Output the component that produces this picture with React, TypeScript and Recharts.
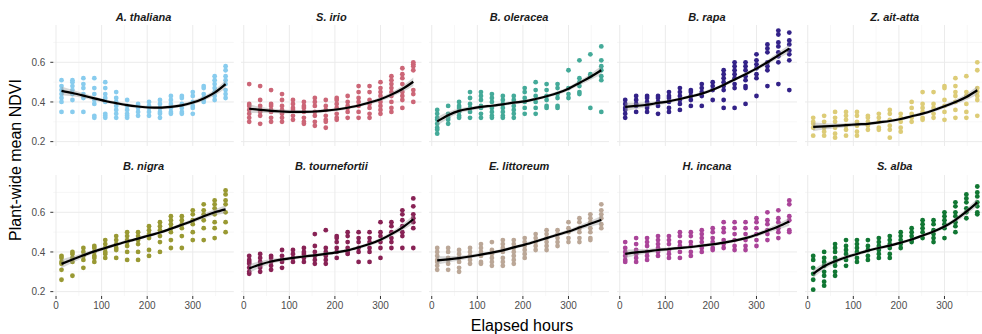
import React from 'react';
import { ComposedChart, Scatter, Line, Area, XAxis, YAxis, CartesianGrid } from 'recharts';

// Sampling times (hours since start) shared by every species
const hours = [12, 36, 60, 84, 108, 132, 156, 180, 204, 228, 252, 276, 300, 324, 348, 372];

// Per-plant NDVI readings, one inner list per sampling time
const thalianaNdvi = [
  [0.51, 0.48, 0.46, 0.44, 0.42, 0.40, 0.35], [0.51, 0.50, 0.48, 0.46, 0.44, 0.41, 0.35],
  [0.52, 0.49, 0.47, 0.44, 0.42, 0.35], [0.52, 0.47, 0.44, 0.41, 0.39, 0.33, 0.32],
  [0.50, 0.47, 0.44, 0.42, 0.40, 0.34, 0.33, 0.32], [0.45, 0.42, 0.40, 0.38, 0.36, 0.34, 0.32],
  [0.41, 0.38, 0.36, 0.34, 0.33, 0.32], [0.39, 0.38, 0.37, 0.35, 0.33],
  [0.40, 0.38, 0.37, 0.35, 0.33], [0.41, 0.39, 0.37, 0.35, 0.34, 0.32],
  [0.43, 0.41, 0.39, 0.37, 0.35, 0.34], [0.43, 0.42, 0.39, 0.37, 0.35, 0.34],
  [0.45, 0.43, 0.40, 0.38, 0.37, 0.34], [0.48, 0.47, 0.44, 0.42, 0.41, 0.40],
  [0.53, 0.51, 0.49, 0.47, 0.45, 0.43, 0.41], [0.58, 0.56, 0.53, 0.51, 0.49, 0.46, 0.44, 0.42],
];
const irioNdvi = [
  [0.49, 0.39, 0.38, 0.36, 0.34, 0.32, 0.30], [0.48, 0.41, 0.38, 0.36, 0.35, 0.33, 0.29],
  [0.46, 0.39, 0.38, 0.36, 0.35, 0.32, 0.30], [0.44, 0.41, 0.38, 0.36, 0.34, 0.32, 0.30],
  [0.41, 0.39, 0.37, 0.36, 0.33, 0.31], [0.40, 0.38, 0.37, 0.35, 0.32, 0.30, 0.29],
  [0.42, 0.40, 0.38, 0.35, 0.33, 0.30, 0.28], [0.41, 0.38, 0.36, 0.33, 0.31, 0.30, 0.27],
  [0.42, 0.41, 0.39, 0.37, 0.34, 0.32, 0.31], [0.43, 0.40, 0.38, 0.37, 0.35, 0.32],
  [0.48, 0.45, 0.42, 0.40, 0.38, 0.35, 0.32], [0.48, 0.45, 0.41, 0.39, 0.37, 0.34, 0.32],
  [0.50, 0.47, 0.45, 0.43, 0.40, 0.38, 0.36, 0.34], [0.53, 0.51, 0.49, 0.47, 0.45, 0.43, 0.40, 0.37, 0.35],
  [0.57, 0.54, 0.52, 0.49, 0.45, 0.43, 0.41, 0.37], [0.60, 0.59, 0.58, 0.56, 0.46, 0.44, 0.40],
];
const oleraceaNdvi = [
  [0.36, 0.34, 0.32, 0.31, 0.29, 0.27, 0.26, 0.24], [0.38, 0.34, 0.32, 0.31, 0.29],
  [0.40, 0.38, 0.37, 0.35, 0.33, 0.32], [0.45, 0.42, 0.39, 0.37, 0.35, 0.32],
  [0.45, 0.43, 0.41, 0.38, 0.37, 0.34, 0.32], [0.44, 0.42, 0.40, 0.37, 0.35, 0.33, 0.32],
  [0.43, 0.41, 0.39, 0.37, 0.35, 0.33, 0.32], [0.43, 0.41, 0.38, 0.36, 0.34, 0.32],
  [0.47, 0.45, 0.42, 0.40, 0.37, 0.34], [0.50, 0.46, 0.43, 0.40, 0.37, 0.34],
  [0.49, 0.46, 0.43, 0.41, 0.38, 0.37], [0.49, 0.47, 0.44, 0.42, 0.38, 0.37],
  [0.56, 0.47, 0.44, 0.42], [0.61, 0.52, 0.50, 0.48, 0.45, 0.44],
  [0.64, 0.54, 0.53, 0.37], [0.68, 0.61, 0.58, 0.56, 0.53, 0.51, 0.35],
];
const rapaNdvi = [
  [0.41, 0.39, 0.37, 0.36, 0.34, 0.32], [0.43, 0.41, 0.39, 0.38, 0.35],
  [0.43, 0.42, 0.40, 0.38, 0.37, 0.35], [0.43, 0.42, 0.40, 0.38, 0.34],
  [0.45, 0.43, 0.42, 0.40, 0.37, 0.35], [0.47, 0.45, 0.43, 0.41, 0.39, 0.36],
  [0.46, 0.45, 0.43, 0.41, 0.38], [0.49, 0.47, 0.45, 0.43, 0.38],
  [0.50, 0.48, 0.46, 0.41], [0.56, 0.54, 0.52, 0.50, 0.48, 0.46, 0.41, 0.37],
  [0.60, 0.58, 0.56, 0.54, 0.52, 0.49, 0.47, 0.37], [0.60, 0.58, 0.56, 0.53, 0.51, 0.48, 0.47, 0.39],
  [0.64, 0.61, 0.59, 0.57, 0.54, 0.52, 0.43], [0.69, 0.67, 0.65, 0.60, 0.58, 0.56, 0.48],
  [0.76, 0.74, 0.70, 0.68, 0.65, 0.63, 0.60, 0.49], [0.75, 0.71, 0.69, 0.66, 0.64, 0.61, 0.46],
];
const aitAttaNdvi = [
  [0.32, 0.30, 0.29, 0.27, 0.23], [0.33, 0.30, 0.27, 0.25, 0.23],
  [0.35, 0.32, 0.30, 0.27, 0.24, 0.22], [0.35, 0.33, 0.31, 0.28, 0.26, 0.23],
  [0.35, 0.33, 0.30, 0.28, 0.25, 0.23], [0.33, 0.32, 0.30, 0.28, 0.26],
  [0.34, 0.32, 0.30, 0.27, 0.26], [0.36, 0.34, 0.31, 0.28, 0.26, 0.22],
  [0.34, 0.32, 0.30, 0.27, 0.25], [0.40, 0.37, 0.34, 0.32, 0.30],
  [0.45, 0.39, 0.37, 0.35, 0.32, 0.31], [0.45, 0.39, 0.37, 0.34, 0.32],
  [0.48, 0.47, 0.41, 0.38, 0.35, 0.31], [0.52, 0.48, 0.45, 0.43, 0.40, 0.36, 0.32],
  [0.53, 0.45, 0.43, 0.39, 0.35, 0.32], [0.60, 0.56, 0.47, 0.45, 0.43, 0.41, 0.33],
];
const nigraNdvi = [
  [0.38, 0.37, 0.35, 0.34, 0.31, 0.26], [0.40, 0.39, 0.37, 0.35, 0.28],
  [0.42, 0.40, 0.38, 0.36, 0.32], [0.43, 0.42, 0.40, 0.38, 0.37, 0.35],
  [0.46, 0.44, 0.42, 0.40, 0.39, 0.37], [0.48, 0.46, 0.44, 0.42, 0.41, 0.37],
  [0.50, 0.48, 0.46, 0.45, 0.43, 0.40, 0.36], [0.50, 0.48, 0.46, 0.44, 0.40, 0.36],
  [0.53, 0.51, 0.49, 0.47, 0.41, 0.38], [0.55, 0.53, 0.51, 0.48, 0.45, 0.40],
  [0.58, 0.56, 0.54, 0.52, 0.50, 0.46, 0.42], [0.58, 0.56, 0.54, 0.52, 0.48, 0.42],
  [0.61, 0.59, 0.56, 0.54, 0.50, 0.46], [0.64, 0.61, 0.59, 0.56, 0.52, 0.46],
  [0.66, 0.64, 0.62, 0.59, 0.55, 0.52, 0.47], [0.71, 0.69, 0.66, 0.64, 0.60, 0.55, 0.50],
];
const tournefortiiNdvi = [
  [0.38, 0.36, 0.35, 0.34, 0.32, 0.30, 0.29], [0.39, 0.37, 0.35, 0.33, 0.32, 0.30],
  [0.38, 0.37, 0.35, 0.33, 0.31], [0.41, 0.38, 0.36, 0.35, 0.32],
  [0.41, 0.39, 0.37, 0.35], [0.42, 0.40, 0.39, 0.37, 0.35],
  [0.49, 0.43, 0.40, 0.38, 0.36, 0.34], [0.51, 0.42, 0.40, 0.38, 0.36, 0.34],
  [0.48, 0.47, 0.45, 0.42, 0.40, 0.37], [0.50, 0.48, 0.45, 0.42, 0.40, 0.39],
  [0.50, 0.47, 0.45, 0.42, 0.40, 0.35], [0.50, 0.47, 0.45, 0.42, 0.40, 0.35],
  [0.55, 0.50, 0.48, 0.45, 0.42, 0.37], [0.55, 0.53, 0.50, 0.47, 0.45, 0.42],
  [0.61, 0.59, 0.56, 0.53, 0.50, 0.48, 0.42], [0.67, 0.63, 0.59, 0.57, 0.55, 0.52, 0.42],
];
const littoreumNdvi = [
  [0.42, 0.40, 0.38, 0.36, 0.35, 0.33, 0.31], [0.42, 0.40, 0.37, 0.36, 0.34, 0.31],
  [0.41, 0.39, 0.37, 0.35, 0.32, 0.30], [0.42, 0.40, 0.38, 0.36, 0.34],
  [0.44, 0.42, 0.40, 0.38, 0.35, 0.34], [0.45, 0.41, 0.39, 0.37, 0.35, 0.33],
  [0.46, 0.44, 0.42, 0.40, 0.37, 0.35, 0.33], [0.46, 0.44, 0.42, 0.40, 0.38, 0.36, 0.34],
  [0.47, 0.45, 0.43, 0.41, 0.39, 0.37], [0.49, 0.47, 0.45, 0.43, 0.41],
  [0.51, 0.49, 0.47, 0.45, 0.43, 0.41], [0.51, 0.49, 0.47, 0.45, 0.43],
  [0.55, 0.52, 0.50, 0.47, 0.45], [0.57, 0.55, 0.52, 0.50, 0.47, 0.45],
  [0.59, 0.57, 0.55, 0.52, 0.50, 0.47, 0.46], [0.64, 0.61, 0.59, 0.57, 0.54, 0.52],
];
const incanaNdvi = [
  [0.45, 0.42, 0.40, 0.38, 0.36, 0.35], [0.47, 0.44, 0.41, 0.39, 0.37, 0.35],
  [0.47, 0.45, 0.43, 0.40, 0.38, 0.36], [0.48, 0.46, 0.44, 0.42, 0.40, 0.38],
  [0.48, 0.46, 0.44, 0.41, 0.39, 0.37], [0.50, 0.48, 0.45, 0.43, 0.40, 0.37],
  [0.50, 0.48, 0.45, 0.43, 0.40, 0.38], [0.51, 0.49, 0.47, 0.45, 0.42, 0.40],
  [0.52, 0.50, 0.47, 0.45, 0.42, 0.41], [0.55, 0.52, 0.50, 0.46, 0.44, 0.42],
  [0.55, 0.52, 0.49, 0.46, 0.43, 0.41], [0.55, 0.52, 0.49, 0.46, 0.43, 0.41],
  [0.57, 0.55, 0.52, 0.49, 0.46, 0.43], [0.60, 0.56, 0.54, 0.51, 0.49, 0.46],
  [0.61, 0.57, 0.55, 0.52, 0.50, 0.47], [0.66, 0.64, 0.58, 0.56, 0.51, 0.50],
];
const albaNdvi = [
  [0.38, 0.36, 0.32, 0.29, 0.26, 0.21], [0.40, 0.37, 0.35, 0.33, 0.30, 0.28, 0.25, 0.23],
  [0.44, 0.42, 0.40, 0.37, 0.35, 0.33, 0.30, 0.28], [0.46, 0.43, 0.41, 0.39, 0.36, 0.33],
  [0.46, 0.44, 0.42, 0.40, 0.37, 0.35], [0.46, 0.43, 0.41, 0.38, 0.36],
  [0.47, 0.45, 0.43, 0.41, 0.39, 0.37], [0.48, 0.46, 0.44, 0.42, 0.39, 0.37],
  [0.50, 0.48, 0.46, 0.44, 0.42], [0.52, 0.50, 0.48, 0.46, 0.45],
  [0.56, 0.54, 0.52, 0.50, 0.47], [0.56, 0.54, 0.51, 0.49, 0.47, 0.45],
  [0.60, 0.58, 0.56, 0.54, 0.52, 0.47], [0.65, 0.63, 0.60, 0.58, 0.55, 0.53, 0.50],
  [0.69, 0.67, 0.65, 0.62, 0.60, 0.57], [0.73, 0.70, 0.68, 0.65, 0.63, 0.60, 0.59],
];

// Smoothed trend (loess fit) at each sampling time
const thalianaFit = [0.456, 0.445, 0.432, 0.418, 0.405, 0.394, 0.384, 0.377, 0.372, 0.371, 0.375, 0.383, 0.397, 0.418, 0.447, 0.49];
const irioFit = [0.366, 0.36, 0.355, 0.352, 0.35, 0.35, 0.352, 0.356, 0.362, 0.371, 0.382, 0.397, 0.414, 0.437, 0.465, 0.502];
const oleraceaFit = [0.302, 0.333, 0.355, 0.366, 0.375, 0.381, 0.388, 0.397, 0.403, 0.415, 0.429, 0.445, 0.467, 0.496, 0.526, 0.56];
const rapaFit = [0.375, 0.38, 0.386, 0.395, 0.403, 0.415, 0.428, 0.442, 0.462, 0.486, 0.513, 0.54, 0.568, 0.6, 0.635, 0.669];
const aitAttaFit = [0.274, 0.277, 0.28, 0.283, 0.287, 0.29, 0.297, 0.304, 0.314, 0.328, 0.341, 0.358, 0.378, 0.4, 0.425, 0.459];
const nigraFit = [0.34, 0.362, 0.383, 0.403, 0.42, 0.437, 0.453, 0.467, 0.483, 0.498, 0.517, 0.537, 0.557, 0.58, 0.6, 0.615];
const tournefortiiFit = [0.317, 0.337, 0.352, 0.362, 0.37, 0.377, 0.383, 0.39, 0.398, 0.408, 0.423, 0.44, 0.462, 0.49, 0.523, 0.565];
const littoreumFit = [0.358, 0.363, 0.369, 0.377, 0.387, 0.397, 0.408, 0.423, 0.437, 0.453, 0.47, 0.487, 0.503, 0.523, 0.542, 0.562];
const incanaFit = [0.39, 0.398, 0.403, 0.41, 0.415, 0.42, 0.425, 0.432, 0.438, 0.447, 0.457, 0.47, 0.487, 0.507, 0.528, 0.553];
const albaFit = [0.29, 0.328, 0.353, 0.373, 0.39, 0.407, 0.42, 0.432, 0.447, 0.463, 0.483, 0.503, 0.528, 0.562, 0.603, 0.65];

// Half-width of the confidence ribbon around the trend
const bandHalfWidth = [0.022, 0.016, 0.012, 0.01, 0.009, 0.008, 0.008, 0.008, 0.008, 0.008, 0.008, 0.009, 0.01, 0.012, 0.015, 0.021];

const speciesNames = ['A. thaliana', 'S. irio', 'B. oleracea', 'B. rapa', 'Z. ait-atta', 'B. nigra', 'B. tournefortii', 'E. littoreum', 'H. incana', 'S. alba'];
const speciesColors = ['#88CCEE', '#CC6677', '#44AA99', '#332288', '#DDCC77', '#999933', '#882255', '#BBA797', '#AA4499', '#117733'];
const speciesNdvi = [thalianaNdvi, irioNdvi, oleraceaNdvi, rapaNdvi, aitAttaNdvi, nigraNdvi, tournefortiiNdvi, littoreumNdvi, incanaNdvi, albaNdvi];
const speciesFit = [thalianaFit, irioFit, oleraceaFit, rapaFit, aitAttaFit, nigraFit, tournefortiiFit, littoreumFit, incanaFit, albaFit];

const xTicks = [0, 100, 200, 300];
const xMinor = [50, 150, 250, 350];
const yTicks = [0.2, 0.4, 0.6];
const yMinor = [0.3, 0.5, 0.7];
const X_DOMAIN: [number, number] = [-6, 390];
const Y_DOMAIN: [number, number] = [0.178, 0.788];

// Facet geometry
const PLOT_LEFT = 53.3;
const PLOT_TOP = 25;
const PANEL_W = 180.5;
const PANEL_H = 121;
const COL_STEP = 187.8;
const ROW_STEP = 149.5;
const Y_AXIS_W = 53.3;
const X_AXIS_H = 22;

const FONT = '"Liberation Sans", Arial, Helvetica, sans-serif';
const TICK_STYLE = { fontSize: 10, fill: '#4D4D4D' };

function Panel({ index }: { index: number }) {
  const row = Math.floor(index / 5);
  const col = index % 5;
  const color = speciesColors[index];
  const showY = col === 0;
  const showX = row === 1;
  const yw = showY ? Y_AXIS_W : 0;
  const xh = showX ? X_AXIS_H : 0;
  const width = PANEL_W + yw;
  const height = PANEL_H + xh;

  const points = hours.flatMap((h, k) => speciesNdvi[index][k].map((v) => ({ x: h, y: v })));
  const trend = hours.map((h, k) => {
    const f = speciesFit[index][k];
    return { x: h, y: f, band: [f - bandHalfWidth[k], f + bandHalfWidth[k]] };
  });

  const dot = (p: any) => <circle cx={p.cx} cy={p.cy} r={2.4} fill={color} />;

  return (
    <div style={{ position: 'absolute', left: PLOT_LEFT + col * COL_STEP - yw, top: PLOT_TOP + row * ROW_STEP, width, height }}>
      <ComposedChart width={width} height={height} data={trend} margin={{ top: 0, right: 0, bottom: 0, left: 0 }}>
        <CartesianGrid
          stroke="#F2F2F2"
          strokeWidth={0.6}
          horizontalValues={yMinor}
          verticalValues={xMinor}
        />
        <CartesianGrid
          stroke="#EBEBEB"
          strokeWidth={1}
          horizontalValues={yTicks}
          verticalValues={xTicks}
        />
        <XAxis
          type="number"
          dataKey="x"
          domain={X_DOMAIN}
          ticks={xTicks}
          interval={0}
          allowDataOverflow
          hide={!showX}
          height={xh}
          axisLine={false}
          tickLine={{ stroke: '#333333' }}
          tickSize={3}
          tickMargin={3}
          tick={TICK_STYLE}
        />
        <YAxis
          type="number"
          dataKey="y"
          domain={Y_DOMAIN}
          ticks={yTicks}
          interval={0}
          allowDataOverflow
          hide={!showY}
          width={yw}
          axisLine={false}
          tickLine={{ stroke: '#333333' }}
          tickSize={3}
          tickMargin={5}
          tick={TICK_STYLE}
          tickFormatter={(v: number) => v.toFixed(1)}
        />
        <Scatter data={points} shape={dot} fill={color} isAnimationActive={false} zIndex={100} />
        <Area
          dataKey="band"
          type="monotone"
          fill="#999999"
          fillOpacity={0.4}
          stroke="none"
          isAnimationActive={false}
          zIndex={200}
        />
        <Line
          dataKey="y"
          type="monotone"
          stroke="#000000"
          strokeWidth={2.2}
          dot={false}
          activeDot={false}
          isAnimationActive={false}
          zIndex={300}
        />
      </ComposedChart>
    </div>
  );
}

export default function App() {
  return (
    <div style={{ position: 'absolute', left: 0, top: 0, width: 982, height: 334, background: '#FFFFFF', fontFamily: FONT, overflow: 'hidden' }}>
      {speciesNames.map((name, i) => {
        const row = Math.floor(i / 5);
        const col = i % 5;
        return (
          <div
            key={'strip-' + name}
            style={{
              position: 'absolute',
              left: PLOT_LEFT + col * COL_STEP,
              top: 10.5 + row * ROW_STEP,
              width: PANEL_W,
              textAlign: 'center',
              fontSize: 11,
              lineHeight: '12px',
              fontWeight: 'bold',
              fontStyle: 'italic',
              color: '#1A1A1A',
              whiteSpace: 'nowrap',
            }}
          >
            {name}
          </div>
        );
      })}
      {speciesNames.map((name, i) => (
        <Panel key={'panel-' + name} index={i} />
      ))}
      <div
        style={{
          position: 'absolute',
          left: 522,
          top: 325.5,
          transform: 'translate(-50%, -50%)',
          fontSize: 16,
          color: '#000000',
          whiteSpace: 'nowrap',
        }}
      >
        Elapsed hours
      </div>
      <div
        style={{
          position: 'absolute',
          left: 16,
          top: 160,
          transform: 'translate(-50%, -50%) rotate(-90deg)',
          fontSize: 16,
          color: '#000000',
          whiteSpace: 'nowrap',
        }}
      >
        Plant-wide mean NDVI
      </div>
    </div>
  );
}
